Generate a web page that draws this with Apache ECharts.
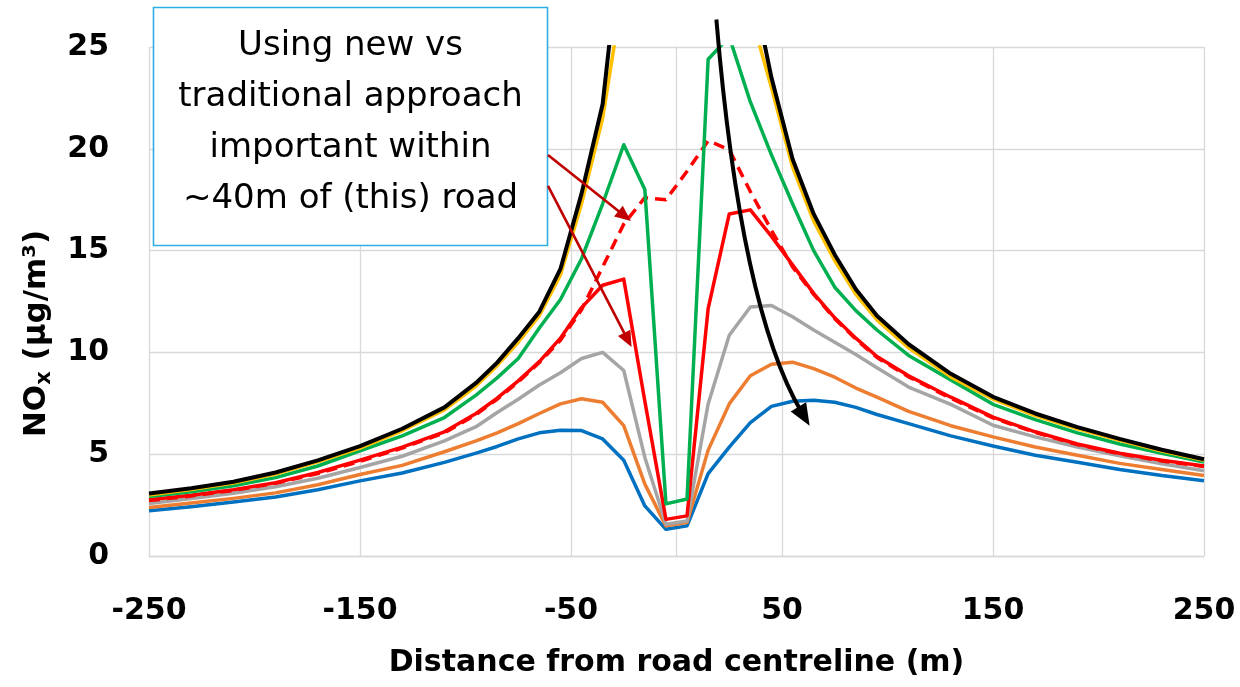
<!DOCTYPE html>
<html><head><meta charset="utf-8">
<script src="https://cdn.jsdelivr.net/npm/echarts@6/dist/echarts.min.js"></script>
<style>html,body{margin:0;padding:0;background:#fff}#c{width:1240px;height:687px}</style>
</head><body><div id="c"></div>
<script>
// Distance from road centreline (m)
const distances = [-250,-230,-210,-190,-170,-150,-130,-110,-95,-85,-75,-65,-55,-45,-35,-25,-15,-5,5,15,25,35,45,55,65,75,85,95,110,130,150,170,190,210,230,250];
// NOx concentrations (ug/m3)
const blue = [2.22,2.42,2.65,2.90,3.25,3.69,4.08,4.60,5.05,5.38,5.75,6.05,6.18,6.16,5.75,4.70,2.46,1.31,1.48,4.05,5.35,6.55,7.35,7.60,7.65,7.55,7.30,6.95,6.50,5.90,5.40,4.95,4.60,4.25,3.95,3.70];
const orange = [2.38,2.60,2.83,3.10,3.50,4.00,4.45,5.12,5.65,6.05,6.50,7.00,7.47,7.72,7.55,6.40,3.53,1.48,1.64,5.20,7.47,8.85,9.42,9.52,9.20,8.78,8.25,7.80,7.10,6.40,5.85,5.35,4.95,4.55,4.25,3.95];
const gray = [2.58,2.82,3.08,3.40,3.82,4.35,4.90,5.65,6.35,7.05,7.70,8.40,9.00,9.70,10.00,9.11,4.84,1.56,1.72,7.47,10.84,12.23,12.30,11.75,11.10,10.50,9.90,9.25,8.30,7.45,6.42,5.85,5.35,4.92,4.53,4.19];
const red = [2.76,2.98,3.25,3.60,4.10,4.71,5.35,6.10,7.00,7.75,8.60,9.55,10.70,12.20,13.30,13.60,7.60,1.80,1.97,12.15,16.80,17.00,15.70,14.30,12.90,11.70,10.70,9.80,8.85,7.80,6.82,6.10,5.50,5.05,4.70,4.42];
const redDashed = [2.72,2.95,3.22,3.57,4.05,4.65,5.30,6.05,6.95,7.70,8.55,9.50,10.60,12.10,14.20,16.30,17.60,17.50,18.90,20.40,19.95,17.90,16.00,14.20,12.85,11.65,10.65,9.75,8.80,7.75,6.78,6.07,5.47,5.02,4.67,4.40];
const green = [2.92,3.15,3.45,3.85,4.42,5.17,5.90,6.80,7.90,8.75,9.70,11.20,12.60,14.60,17.30,20.20,18.00,2.56,2.80,24.40,25.50,22.30,19.70,17.30,15.00,13.20,12.05,11.10,9.85,8.65,7.45,6.70,6.05,5.50,5.05,4.62];
const yellow = [3.00,3.27,3.58,4.02,4.62,5.30,6.15,7.18,8.35,9.35,10.50,11.80,13.80,17.30,21.50,28.00,36.00,42.00,42.00,37.00,31.00,26.70,23.00,19.10,16.45,14.50,12.85,11.60,10.22,8.80,7.70,6.90,6.25,5.68,5.15,4.70];
const black = [3.07,3.33,3.65,4.10,4.70,5.40,6.25,7.30,8.50,9.50,10.70,12.00,14.10,17.80,22.20,31.50,40.00,45.00,45.00,40.00,33.00,28.50,23.50,19.50,16.80,14.80,13.10,11.80,10.40,8.95,7.82,7.00,6.33,5.75,5.22,4.75];

const xTicks = [-250,-150,-50,50,150,250];
const yTicks = [0,5,10,15,20,25];

const noteText = 'Using new vs\ntraditional approach\nimportant within\n~40m of (this) road';
// annotation anchor points in data coordinates [distance, NOx]
const noteArrowStarts = [[-60.9,19.70],[-60.9,18.18]];
const noteArrowTips = [[-21.6,16.45],[-21.3,10.26]];
const curveArrow = {start:[18.9,26.35], ctrl:[30.4,12.1], tip:[63.1,6.4]};

const FONT = '"DejaVu Sans", sans-serif';
const GRID = '#D9D9D9';

const defs = [
  {name:'blue', data:blue, color:'#0070C0', w:3.5},
  {name:'orange', data:orange, color:'#ED7D31', w:3.5},
  {name:'gray', data:gray, color:'#A5A5A5', w:3.5},
  {name:'red', data:red, color:'#FF0000', w:3.5},
  {name:'red dashed', data:redDashed, color:'#FF0000', w:3.5, dash:[11,7]},
  {name:'green', data:green, color:'#00B050', w:3.5},
  {name:'yellow', data:yellow, color:'#FFC000', w:3.5},
  {name:'black', data:black, color:'#000000', w:4}
];

const series = defs.map((d,i)=>({
  name:d.name, type:'line', showSymbol:false, symbol:'none', clip:true,
  data: distances.map((x,j)=>[x, d.data[j]]),
  lineStyle:{color:d.color, width:d.w, type: d.dash ? d.dash : 'solid', cap:'butt', join:'round'},
  itemStyle:{color:d.color}, z: 2+i, animation:false
}));

const option = {
  animation:false,
  backgroundColor:'#fff',
  grid:{left:149, right:36, top:47, bottom:131, containLabel:false, outerBoundsMode:'none'},
  xAxis:{type:'value', min:-250, max:250, interval:100,
    name:'Distance from road centreline (m)', nameLocation:'middle', nameGap:92,
    nameTextStyle:{fontFamily:FONT, fontWeight:'bold', fontSize:30, color:'#000'},
    axisLine:{show:true, onZero:false, lineStyle:{color:GRID, width:1.3}},
    axisTick:{show:false},
    axisLabel:{fontFamily:FONT, fontWeight:'bold', fontSize:30, color:'#000', margin:40},
    splitLine:{show:true, lineStyle:{color:GRID, width:1.3}}
  },
  yAxis:{type:'value', min:0, max:25, interval:5,
    name:'NO{s|x} (μg/m³)', nameLocation:'middle', nameGap:94, nameRotate:90,
    nameTextStyle:{fontFamily:FONT, fontWeight:'bold', fontSize:31, color:'#000', lineHeight:36,
      padding:[0,64,0,0],
      rich:{s:{fontFamily:FONT, fontWeight:'bold', fontSize:21, color:'#000', verticalAlign:'bottom', lineHeight:20}}},
    axisLine:{show:true, lineStyle:{color:GRID, width:1.3}},
    axisTick:{show:false},
    axisLabel:{fontFamily:FONT, fontWeight:'bold', fontSize:30, color:'#000', margin:40},
    splitLine:{show:true, lineStyle:{color:GRID, width:1.3}}
  },
  series: series
};

const chart = echarts.init(document.getElementById('c'), null, {renderer:'canvas'});
chart.setOption(option);

const P = p => chart.convertToPixel({xAxisIndex:0, yAxisIndex:0}, p);
function headPts(tip, dir, len, hw){
  const L = Math.hypot(dir[0], dir[1]); const ux = dir[0]/L, uy = dir[1]/L;
  const bx = tip[0]-ux*len, by = tip[1]-uy*len;
  return {pts:[tip,[bx-uy*hw, by+ux*hw],[bx+uy*hw, by-ux*hw]], base:[tip[0]-ux*len*0.7, tip[1]-uy*len*0.7]};
}
const graphics = [];
// text box
graphics.push({type:'rect', z:100, shape:{x:153.5, y:7.5, width:394, height:238},
  style:{fill:'#fff', stroke:'#2FAEE3', lineWidth:1.6}});
graphics.push({type:'text', z:101, x:350.5, y:123,
  style:{text:noteText, fontFamily:'"DejaVu Sans", sans-serif', fontSize:34, fill:'#000', align:'center', verticalAlign:'middle', lineHeight:51}});
// dark red arrows
for (let i=0;i<noteArrowStarts.length;i++){
  const a = P(noteArrowStarts[i]), b = P(noteArrowTips[i]);
  const h = headPts(b, [b[0]-a[0], b[1]-a[1]], 16, 7);
  graphics.push({type:'line', z:102, shape:{x1:a[0], y1:a[1], x2:h.base[0], y2:h.base[1]}, style:{stroke:'#C00000', lineWidth:2.6}});
  graphics.push({type:'polygon', z:102, shape:{points:h.pts}, style:{fill:'#C00000'}});
}
// black curved arrow
{
  const s = P(curveArrow.start), c = P(curveArrow.ctrl), t = P(curveArrow.tip);
  const h = headPts(t, [t[0]-c[0], t[1]-c[1]], 22, 9);
  graphics.push({type:'bezierCurve', z:103, shape:{x1:s[0], y1:s[1], x2:h.base[0], y2:h.base[1], cpx1:c[0], cpy1:c[1]},
    style:{stroke:'#000', lineWidth:4, fill:null}});
  graphics.push({type:'polygon', z:103, shape:{points:h.pts}, style:{fill:'#000'}});
}
chart.setOption({graphic: graphics});
</script>
</body></html>
